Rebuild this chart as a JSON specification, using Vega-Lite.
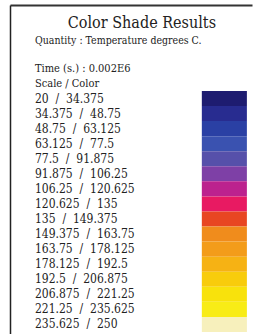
{
  "$schema": "https://vega.github.io/schema/vega-lite/v6.json",
  "autosize": {"type": "fit", "contains": "padding"},
  "width": 262,
  "height": 334,
  "padding": {"left": 10, "top": 5, "right": 10, "bottom": 0},
  "background": "#ffffff",
  "config": {"view": {"stroke": null}, "font": "DejaVu Serif Condensed, DejaVu Serif, serif"},
  "data": {
    "values": [
      {"id": 1, "kind": "title", "text": "Color Shade Results"},
      {"id": 2, "kind": "quant", "text": "Quantity : Temperature degrees C."},
      {"id": 3, "kind": "head", "text": ""},
      {"id": 4, "kind": "head", "text": "Time (s.) : 0.002E6"},
      {"id": 5, "kind": "head", "text": "Scale / Color"},
      {"id": 6, "kind": "band", "text": "20 \u00a0/ \u00a034.375", "color": "#1e1c70"},
      {"id": 7, "kind": "band", "text": "34.375 \u00a0/ \u00a048.75", "color": "#282c90"},
      {"id": 8, "kind": "band", "text": "48.75 \u00a0/ \u00a063.125", "color": "#2a40a4"},
      {"id": 9, "kind": "band", "text": "63.125 \u00a0/ \u00a077.5", "color": "#3a52b0"},
      {"id": 10, "kind": "band", "text": "77.5 \u00a0/ \u00a091.875", "color": "#5650aa"},
      {"id": 11, "kind": "band", "text": "91.875 \u00a0/ \u00a0106.25", "color": "#7e40a6"},
      {"id": 12, "kind": "band", "text": "106.25 \u00a0/ \u00a0120.625", "color": "#bc228e"},
      {"id": 13, "kind": "band", "text": "120.625 \u00a0/ \u00a0135", "color": "#e81a62"},
      {"id": 14, "kind": "band", "text": "135 \u00a0/ \u00a0149.375", "color": "#e84622"},
      {"id": 15, "kind": "band", "text": "149.375 \u00a0/ \u00a0163.75", "color": "#f08c1c"},
      {"id": 16, "kind": "band", "text": "163.75 \u00a0/ \u00a0178.125", "color": "#f39c1a"},
      {"id": 17, "kind": "band", "text": "178.125 \u00a0/ \u00a0192.5", "color": "#f6b214"},
      {"id": 18, "kind": "band", "text": "192.5 \u00a0/ \u00a0206.875", "color": "#f8cc0c"},
      {"id": 19, "kind": "band", "text": "206.875 \u00a0/ \u00a0221.25", "color": "#f8e20c"},
      {"id": 20, "kind": "band", "text": "221.25 \u00a0/ \u00a0235.625", "color": "#f8ec16"},
      {"id": 21, "kind": "band", "text": "235.625 \u00a0/ \u00a0250", "color": "#f7f0bc"}
    ]
  },
  "encoding": {
    "y": {
      "field": "id",
      "type": "ordinal",
      "scale": {"paddingInner": 0, "paddingOuter": 0.423, "align": 0.84},
      "axis": {"orient": "left", "labels": false, "ticks": false, "title": null, "grid": false, "domainColor": "#222222", "domainWidth": 1.5}
    }
  },
  "layer": [
    {
      "transform": [{"filter": "datum.kind == 'band'"}],
      "mark": {"type": "rect"},
      "encoding": {
        "x": {
          "datum": "swatch",
          "type": "nominal",
          "scale": {"domain": ["label", "swatch"], "paddingInner": 0.73, "paddingOuter": 0.09, "align": 0.83},
          "axis": {"orient": "top", "labels": false, "ticks": false, "title": null, "grid": false, "domainColor": "#333333", "domainWidth": 2}
        },
        "color": {"field": "color", "type": "nominal", "scale": null}
      }
    },
    {
      "transform": [{"filter": "datum.kind == 'band'"}],
      "mark": {"type": "text", "font": "DejaVu Serif Condensed, DejaVu Serif, serif", "align": "left", "baseline": "middle", "fontSize": 12, "color": "#222222"},
      "encoding": {
        "x": {"datum": "label", "type": "nominal", "bandPosition": 0},
        "text": {"field": "text"}
      }
    },
    {
      "transform": [{"filter": "datum.kind == 'head'"}],
      "mark": {"type": "text", "font": "DejaVu Serif Condensed, DejaVu Serif, serif", "align": "left", "baseline": "middle", "fontSize": 11, "dy": 1, "color": "#222222"},
      "encoding": {
        "x": {"datum": "label", "type": "nominal", "bandPosition": 0},
        "text": {"field": "text"}
      }
    },
    {
      "transform": [{"filter": "datum.kind == 'quant'"}],
      "mark": {"type": "text", "font": "DejaVu Serif Condensed, DejaVu Serif, serif", "align": "left", "baseline": "middle", "fontSize": 10.5, "dy": 3, "color": "#222222"},
      "encoding": {
        "x": {"datum": "label", "type": "nominal", "bandPosition": 0},
        "text": {"field": "text"}
      }
    },
    {
      "transform": [{"filter": "datum.kind == 'title'"}],
      "mark": {"type": "text", "font": "DejaVu Serif Condensed, DejaVu Serif, serif", "align": "center", "baseline": "middle", "fontSize": 16, "dx": 107, "color": "#222222"},
      "encoding": {
        "x": {"datum": "label", "type": "nominal", "bandPosition": 0},
        "text": {"field": "text"}
      }
    }
  ]
}
